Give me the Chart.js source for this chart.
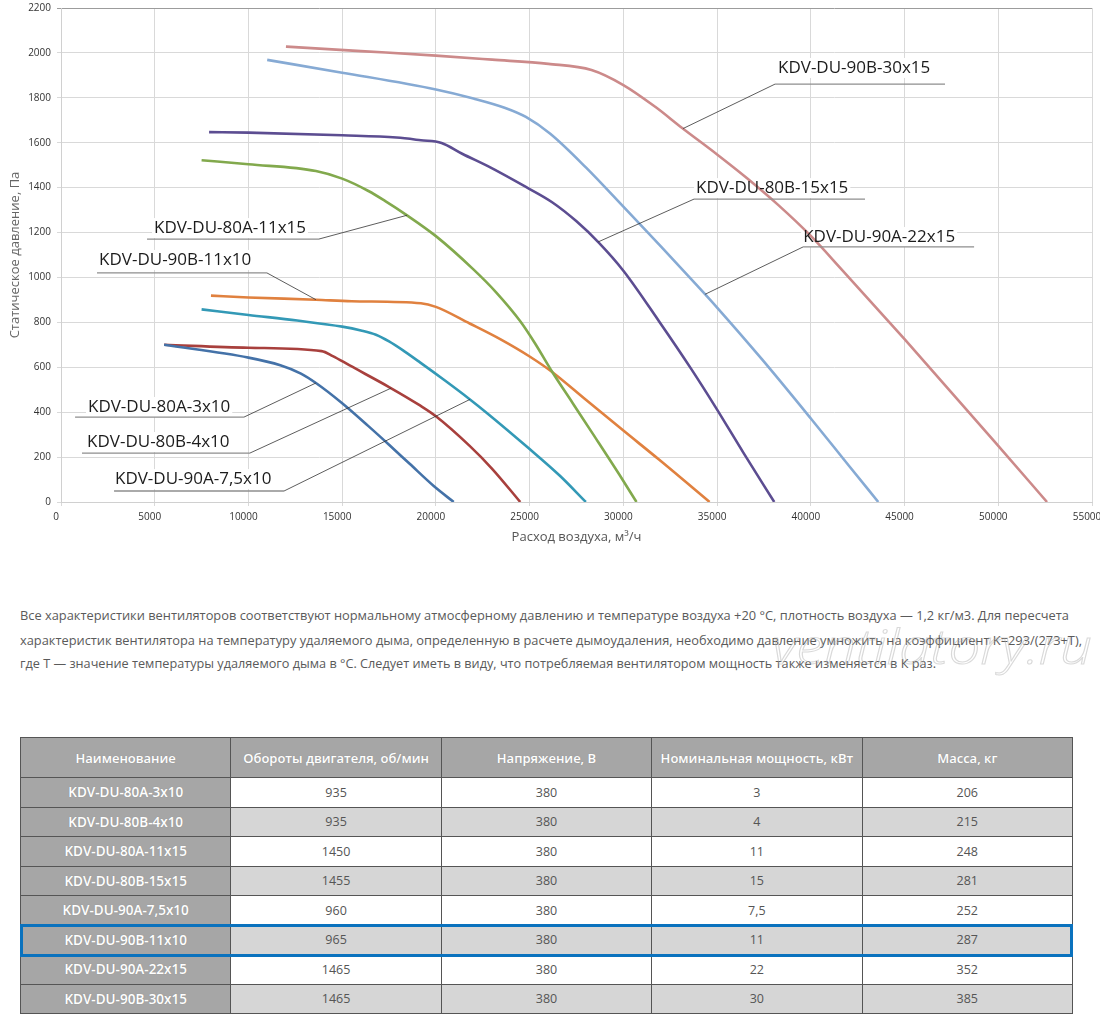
<!DOCTYPE html>
<html>
<head>
<meta charset="utf-8">
<script src="https://cdn.jsdelivr.net/npm/chart.js@4.4.0/dist/chart.umd.min.js"></script>
<style>
html,body{margin:0;padding:0;background:#fff;}
body{width:1100px;height:1016px;position:relative;overflow:hidden;font-family:"Open Sans",sans-serif;}
#chartBox{position:absolute;left:0;top:0;width:1100px;height:560px;}
.pline{position:absolute;left:20px;white-space:nowrap;font-size:13px;line-height:20px;color:#5a5a5a;transform-origin:0 50%;}
#wm{position:absolute;left:772px;top:616px;font-size:48px;font-style:italic;font-weight:300;color:rgba(255,255,255,0);-webkit-text-stroke:1px rgba(170,170,170,0.45);white-space:nowrap;transform-origin:0 0;line-height:60px;}
table{position:absolute;left:20px;top:737px;width:1053px;border-collapse:collapse;table-layout:fixed;}
td,th{border:1.5px solid #555;text-align:center;padding:0;overflow:hidden;white-space:nowrap;}
th{background:#a6a6a6;color:#fff;font-weight:600;font-size:13px;text-shadow:0 0 1px #8a8a8a;}
td{font-size:12.5px;color:#555;background:#fff;}
td.name{background:#a6a6a6;color:#fff;font-weight:600;font-size:13.5px;text-shadow:0 0 1px #8a8a8a;}
tr.alt td{background:#d6d6d6;}
tr.alt td.name{background:#a6a6a6;}
tr.head{height:40px;}
tr.row{height:29.5px;}
#hl{position:absolute;left:20px;top:924px;width:1053px;height:33px;border:3px solid #0a72be;box-sizing:border-box;}
</style>
</head>
<body>
<div id="chartBox"><canvas id="c"></canvas></div>

<div class="pline" style="top:605px" data-w="1049">Все характеристики вентиляторов соответствуют нормальному атмосферному давлению и температуре воздуха +20 °С, плотность воздуха — 1,2 кг/м3. Для пересчета</div>
<div class="pline" style="top:630px" data-w="1062">характеристик вентилятора на температуру удаляемого дыма, определенную в расчете дымоудаления, необходимо давление умножить на коэффициент K=293/(273+T),</div>
<div class="pline" style="top:653px" data-w="916">где T — значение температуры удаляемого дыма в °С. Следует иметь в виду, что потребляемая вентилятором мощность также изменяется в К раз.</div>
<div id="wm" data-w="320">ventilatory.ru</div>

<table id="tbl"></table>
<div id="hl"></div>

<script>
// ---------- DATA ----------
const modelNames = ['KDV-DU-80A-3x10','KDV-DU-80B-4x10','KDV-DU-80A-11x15','KDV-DU-80B-15x15','KDV-DU-90A-7,5x10','KDV-DU-90B-11x10','KDV-DU-90A-22x15','KDV-DU-90B-30x15'];

const flow_80A_3x10 = [5500, 10000, 11700, 12800, 13600, 15000, 16400, 17500, 18600, 19900, 20950];
const pres_80A_3x10 = [700, 643, 609, 572, 530, 440, 338, 255, 170, 70, 0];

const flow_80B_4x10 = [5500, 10000, 13900, 14500, 15400, 17500, 19150, 20000, 21800, 23000, 24500];
const pres_80B_4x10 = [700, 687, 672, 650, 608, 512, 430, 382, 250, 148, 0];

const flow_80A_11x15 = [7500, 10000, 13600, 15000, 16400, 17300, 18400, 20000, 22000, 23200, 24500, 25300, 26200, 27300, 28400, 29800, 30700];
const pres_80A_11x15 = [1522, 1504, 1474, 1440, 1385, 1340, 1280, 1184, 1036, 935, 805, 705, 580, 440, 300, 120, 0];

const flow_80B_15x15 = [7900, 10000, 15000, 17900, 19200, 20300, 21400, 22900, 24800, 26200, 27500, 28700, 30000, 31900, 33600, 34900, 36400, 38050];
const pres_80B_15x15 = [1647, 1645, 1633, 1623, 1611, 1599, 1551, 1490, 1403, 1335, 1250, 1154, 1030, 805, 595, 425, 220, 0];

const flow_90A_7_5x10 = [7500, 10000, 12600, 15000, 16000, 16800, 17500, 18300, 19150, 20500, 21800, 22700, 25000, 26600, 28000];
const pres_90A_7_5x10 = [858, 833, 808, 781, 764, 745, 715, 672, 622, 540, 458, 398, 236, 118, 0];

const flow_90B_11x10 = [8000, 10000, 13600, 15500, 19200, 20000, 21800, 23500, 25000, 26200, 28000, 30000, 31900, 34600];
const pres_90B_11x10 = [919, 911, 901, 894, 885, 869, 795, 722, 648, 579, 455, 318, 189, 0];

const flow_90A_22x15 = [11000, 15000, 20000, 22000, 23700, 24800, 26100, 28000, 30000, 32000, 34000, 35000, 37400, 40000, 42000, 43600];
const pres_90A_22x15 = [1969, 1912, 1837, 1797, 1755, 1715, 1640, 1490, 1315, 1138, 958, 866, 635, 372, 165, 0];

const flow_90B_30x15 = [12000, 16000, 20000, 23000, 26000, 28300, 30000, 31700, 33100, 35000, 36600, 38300, 40000, 41650, 45000, 50000, 52600];
const pres_90B_30x15 = [2028, 2008, 1988, 1970, 1951, 1924, 1857, 1760, 1668, 1548, 1442, 1320, 1185, 1035, 725, 250, 0];

// table columns
const tableHeaders = ['Наименование','Обороты двигателя, об/мин','Напряжение, В','Номинальная мощность, кВт','Масса, кг'];
const motorRpm = [935, 935, 1450, 1455, 960, 965, 1465, 1465];
const voltage = [380, 380, 380, 380, 380, 380, 380, 380];
const powerKw = ['3','4','11','15','7,5','11','22','30'];
const massKg = [206, 215, 248, 281, 252, 287, 352, 385];

// axis ranges
const flowMax = 55000, flowStep = 5000;
const presMax = 2200, presStep = 200;

// ---------- STYLE / LAYOUT ----------
const curveDefs = [
  {name: modelNames[0], flow: flow_80A_3x10,   pres: pres_80A_3x10},
  {name: modelNames[1], flow: flow_80B_4x10,   pres: pres_80B_4x10},
  {name: modelNames[2], flow: flow_80A_11x15,  pres: pres_80A_11x15},
  {name: modelNames[3], flow: flow_80B_15x15,  pres: pres_80B_15x15},
  {name: modelNames[4], flow: flow_90A_7_5x10, pres: pres_90A_7_5x10},
  {name: modelNames[5], flow: flow_90B_11x10,  pres: pres_90B_11x10},
  {name: modelNames[6], flow: flow_90A_22x15,  pres: pres_90A_22x15},
  {name: modelNames[7], flow: flow_90B_30x15,  pres: pres_90B_30x15}
];
const curveColors = ['#4472a8','#a8403d','#82a94d','#5c4d91','#3399b6','#e0813f','#86aad4','#cc8a8a'];

// callout label placement (in data units of the chart)
const labelLayout = [
  {i:7, tx:38250, ty:1933, ux1:38090, ux2:47160, uy:1861, from:'left',  px:33180, py:1663},
  {i:3, tx:33880, ty:1398, ux1:33770, ux2:42890, uy:1349, from:'left',  px:28650, py:1158},
  {i:6, tx:39590, ty:1180, ux1:39590, ux2:48710, uy:1136, from:'left',  px:34360, py:925},
  {i:2, tx:4960,  ty:1220, ux1:4590,  ux2:13760, uy:1171, from:'right', px:18460, py:1277},
  {i:5, tx:2030,  ty:1078, ux1:1920,  ux2:10990, uy:1020, from:'right', px:13600, py:901},
  {i:0, tx:1440,  ty:423,  ux1:750,   ux2:9760,  uy:378,  from:'right', px:13600, py:530},
  {i:1, tx:1390,  ty:267,  ux1:1120,  ux2:10080, uy:218,  from:'right', px:17610, py:507},
  {i:4, tx:2880,  ty:102,  ux1:2830,  ux2:11900, uy:49,   from:'right', px:21820, py:457}
];
const labelFont = '17px "Open Sans", sans-serif';

const calloutPlugin = {
  id: 'callouts',
  beforeDatasetsDraw(chart) {
    const {ctx, scales:{x, y}} = chart;
    ctx.save();
    ctx.font = labelFont;
    ctx.fillStyle = '#ffffff';
    labelLayout.forEach(L => {
      const w = ctx.measureText(modelNames[L.i]).width;
      const X = x.getPixelForValue(L.tx), Y = y.getPixelForValue(L.ty);
      ctx.fillRect(X - 2, Y - 10, w + 4, 20);
    });
    ctx.restore();
  },
  afterDatasetsDraw(chart) {
    const {ctx, scales:{x, y}} = chart;
    ctx.save();
    labelLayout.forEach(L => {
      const X = x.getPixelForValue(L.tx), Y = y.getPixelForValue(L.ty);
      const u1 = x.getPixelForValue(L.ux1), u2 = x.getPixelForValue(L.ux2), uy = y.getPixelForValue(L.uy);
      const px = x.getPixelForValue(L.px), py = y.getPixelForValue(L.py);
      ctx.strokeStyle = '#8e8e8e'; ctx.lineWidth = 1.3;
      ctx.beginPath(); ctx.moveTo(u1, uy); ctx.lineTo(u2, uy); ctx.stroke();
      ctx.strokeStyle = '#333'; ctx.lineWidth = 0.8;
      ctx.beginPath(); ctx.moveTo(L.from === 'left' ? u1 : u2, uy); ctx.lineTo(px, py); ctx.stroke();
      ctx.font = labelFont; ctx.fillStyle = '#1c1c1c';
      ctx.textBaseline = 'middle'; ctx.textAlign = 'left';
      ctx.fillText(modelNames[L.i], X, Y);
    });
    ctx.restore();
  }
};

const tickFont = {family: '"Open Sans", sans-serif', size: 10};

function buildChart() {
  new Chart(document.getElementById('c'), {
    type: 'scatter',
    data: {
      datasets: curveDefs.map((c, k) => ({
        label: c.name,
        data: c.flow.map((f, j) => ({x: f, y: c.pres[j]})),
        showLine: true,
        borderColor: curveColors[k],
        backgroundColor: curveColors[k],
        borderWidth: 2.6,
        pointRadius: 0,
        cubicInterpolationMode: 'monotone',
        fill: false
      }))
    },
    options: {
      responsive: true,
      maintainAspectRatio: false,
      animation: false,
      layout: {padding: {top: 8, right: 8, bottom: 0, left: 0}},
      plugins: {legend: {display: false}, tooltip: {enabled: false}},
      scales: {
        x: {
          type: 'linear', min: 0, max: flowMax,
          ticks: {stepSize: flowStep, font: tickFont, color: '#333', padding: 5, maxRotation: 0, autoSkip: false, labelOffset: -5,
                  callback: v => String(v)},
          grid: {color: '#d9d9d9', lineWidth: 1, tickLength: 4},
          border: {color: '#d0d0d0'},
          title: {display: true, text: 'Расход воздуха, м³/ч', color: '#555', font: {family: '"Open Sans", sans-serif', size: 13}, padding: {top: 0, bottom: 15}},
          afterFit(s) { s.height = 58; s.paddingLeft = 0; s.paddingRight = 0; }
        },
        y: {
          type: 'linear', min: 0, max: presMax,
          ticks: {stepSize: presStep, font: tickFont, color: '#333', padding: 6, callback: v => String(v)},
          grid: {color: c => (c.tick && c.tick.value === presMax) ? '#9c9c9c' : '#d9d9d9', lineWidth: 1, tickLength: 4},
          border: {color: '#d0d0d0'},
          title: {display: true, text: 'Статическое давление, Па', color: '#666', font: {family: '"Open Sans", sans-serif', size: 13}, padding: {top: 7, bottom: 0}},
          afterFit(s) { s.width = 61; s.paddingTop = 0; s.paddingBottom = 0; }
        }
      }
    },
    plugins: [calloutPlugin]
  });
}

// ---------- TABLE ----------
function buildTable() {
  const t = document.getElementById('tbl');
  let html = '<tr class="head">' + tableHeaders.map(h => '<th>' + h + '</th>').join('') + '</tr>';
  modelNames.forEach((n, r) => {
    html += '<tr class="row' + (r % 2 ? ' alt' : '') + '"><td class="name">' + n + '</td><td>' + motorRpm[r] +
      '</td><td>' + voltage[r] + '</td><td>' + powerKw[r] + '</td><td>' + massKg[r] + '</td></tr>';
  });
  t.innerHTML = html;
}

function fitLines() {
  document.querySelectorAll('[data-w]').forEach(el => {
    el.style.transform = 'none';
    const w = el.getBoundingClientRect().width;
    el.style.transform = 'scaleX(' + (+el.dataset.w / w) + ')';
  });
}

buildTable();
fitLines();
document.fonts.ready.then(() => { fitLines(); buildChart(); });
</script>
</body>
</html>
